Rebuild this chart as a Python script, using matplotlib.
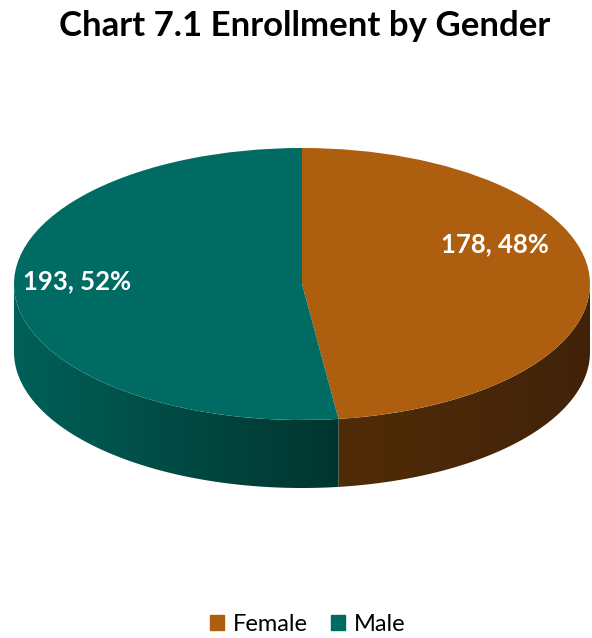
import numpy as np
import matplotlib.pyplot as plt
import matplotlib.patches as mpatches
from matplotlib.colors import LinearSegmentedColormap

# Data
categories = ['Female', 'Male']
counts = [178, 193]
colors = ['#AD5F0F', '#006B62']
side_dark = [('#512C07', '#41220A'), ('#006058', '#00352F')]

plt.rcParams['font.family'] = ['Lato', 'DejaVu Sans']

fig = plt.figure(figsize=(5.92, 6.38), dpi=100)
W, H = 592, 638
depth = 0.5  # side wall height in units of the vertical semi-axis
left_px, right_px, top_px, bot_px = 14, 590, 148, 488
ax = fig.add_axes([left_px / W, 1 - bot_px / H, (right_px - left_px) / W, (bot_px - top_px) / H])

total = sum(counts)
fracs = [c / total for c in counts]

# top face
wedges, _ = ax.pie(counts, startangle=90, counterclock=False, colors=colors,
                   radius=1, wedgeprops=dict(linewidth=0, zorder=3))
ax.set_aspect('auto')
ax.axis('off')

# side walls (front half only), with a horizontal gradient
angle = 90.0
for frac, (c1, c2) in zip(fracs, side_dark):
    a_end = angle - frac * 360
    lo, hi = max(min(angle, a_end), -180), min(max(angle, a_end), 0)
    if hi > lo:
        th = np.radians(np.linspace(lo, hi, 200))
        x = np.cos(th)
        y = np.sin(th)
        verts = np.concatenate([np.column_stack([x, y]), np.column_stack([x[::-1], y[::-1] - depth])])
        poly = mpatches.Polygon(verts, closed=True, facecolor='none', edgecolor='none')
        ax.add_patch(poly)
        cmap = LinearSegmentedColormap.from_list('g', [c1, c2])
        grad = np.linspace(0, 1, 256).reshape(1, -1)
        im = ax.imshow(grad, cmap=cmap, extent=[x.min(), x.max(), -1 - depth, 0],
                       aspect='auto', zorder=2)
        im.set_clip_path(poly)
    angle = a_end

ax.set_xlim(-1, 1)
ax.set_ylim(-1 - depth, 1)

# data labels
label_pos = [(0.67, 0.29), (-0.78, 0.02)]
for cnt, frac, (lx, ly) in zip(counts, fracs, label_pos):
    ax.text(lx, ly, f'{cnt}, {round(frac * 100)}%', color='white', fontsize=18.5,
            fontweight='bold', ha='center', va='center', zorder=5)

fig.suptitle('Chart 7.1 Enrollment by Gender', fontsize=25, fontweight='bold', x=0.515, y=0.985)

handles = [mpatches.Patch(color=c, label=l) for c, l in zip(colors, categories)]
fig.legend(handles=handles, loc='lower center', ncol=2, frameon=False, fontsize=17,
           handlelength=0.6, handleheight=0.6, handletextpad=0.35, columnspacing=1.0,
           bbox_to_anchor=(0.52, -0.028))

fig.savefig('out.png', dpi=100)
